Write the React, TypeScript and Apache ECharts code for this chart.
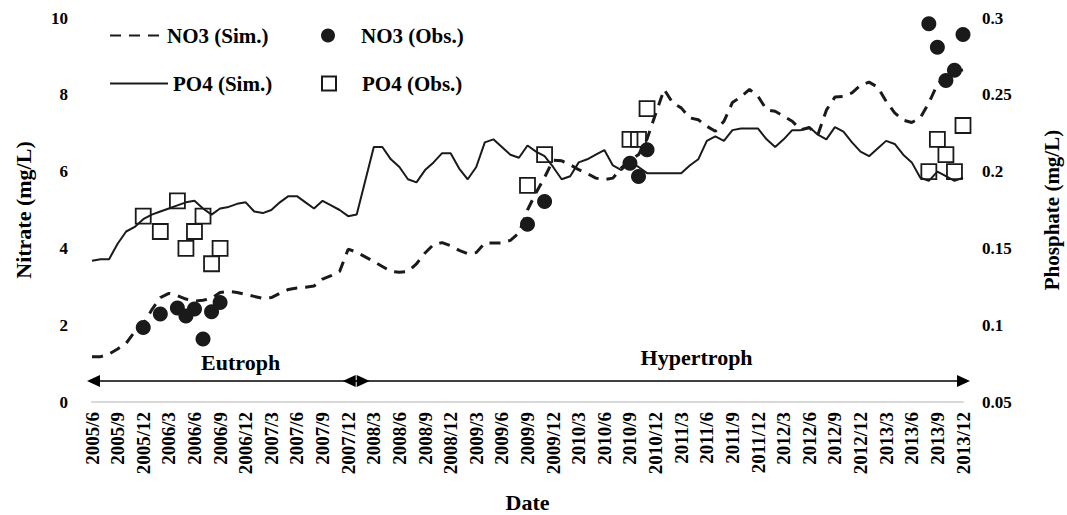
import React, { useEffect, useRef } from "react";
import * as echarts from "echarts";

// Quarterly tick labels (every 3rd month, month index 0 = 2005/6)
const TICK_LABELS = [
  "2005/6", "2005/9", "2005/12", "2006/3", "2006/6", "2006/9", "2006/12",
  "2007/3", "2007/6", "2007/9", "2007/12", "2008/3", "2008/6", "2008/9",
  "2008/12", "2009/3", "2009/6", "2009/9", "2009/12", "2010/3", "2010/6",
  "2010/9", "2010/12", "2011/3", "2011/6", "2011/9", "2011/12", "2012/3",
  "2012/6", "2012/9", "2012/12", "2013/3", "2013/6", "2013/9", "2013/12",
];

// Monthly simulated nitrate (mg/L), 2005/6 .. 2013/12
const NO3_SIM = [
  1.18, 1.18, 1.25, 1.38, 1.53, 1.83, 2.02, 2.4, 2.72, 2.83,
  2.77, 2.68, 2.63, 2.65, 2.7, 2.85, 2.88, 2.85, 2.8, 2.75,
  2.7, 2.72, 2.83, 2.93, 2.97, 2.99, 3.02, 3.2, 3.29, 3.4,
  3.98, 3.9, 3.78, 3.66, 3.53, 3.4, 3.38, 3.4, 3.6, 3.88,
  4.1, 4.15, 4.07, 3.95, 3.86, 3.89, 4.14, 4.14, 4.14, 4.21,
  4.4, 5.0, 5.45, 5.85, 6.3, 6.28, 6.18, 6.05, 5.95, 5.83,
  5.79, 5.83, 6.1, 6.3, 6.44, 6.85, 7.5, 8.14, 7.79, 7.66,
  7.4, 7.35, 7.18, 7.05, 7.31, 7.8, 7.95, 8.14, 7.96, 7.61,
  7.57, 7.44, 7.31, 7.09, 7.14, 6.96, 7.6, 7.94, 7.96, 8.05,
  8.25, 8.33, 8.2, 7.83, 7.53, 7.34, 7.28, 7.4, 7.79, 8.27,
  8.48, 8.6, 8.65,
];

// Monthly simulated phosphate (mg/L), 2005/6 .. 2013/12
const PO4_SIM = [
  0.142, 0.143, 0.143, 0.153, 0.161, 0.164, 0.169, 0.172, 0.174, 0.176,
  0.178, 0.18, 0.181, 0.176, 0.172, 0.176, 0.177, 0.179, 0.18, 0.174,
  0.173, 0.175, 0.18, 0.184, 0.184, 0.18, 0.176, 0.181, 0.178, 0.175,
  0.171, 0.172, 0.194, 0.216, 0.216, 0.208, 0.203, 0.195, 0.193, 0.201,
  0.206, 0.212, 0.212, 0.202, 0.195, 0.203, 0.219, 0.221, 0.216, 0.211,
  0.209, 0.217, 0.213, 0.21, 0.203, 0.195, 0.197, 0.206, 0.208, 0.211,
  0.214, 0.204, 0.201, 0.206, 0.203, 0.199, 0.199, 0.199, 0.199, 0.199,
  0.204, 0.208, 0.22, 0.223, 0.22, 0.227, 0.228, 0.228, 0.228, 0.221,
  0.216, 0.221, 0.227, 0.227, 0.229, 0.224, 0.221, 0.229, 0.226, 0.219,
  0.213, 0.21, 0.215, 0.22, 0.218, 0.211, 0.206, 0.196, 0.194, 0.2,
  0.197, 0.194, 0.196,
];

// Observations
const OBS_DATES = [
  "2005/12", "2006/2", "2006/4", "2006/5", "2006/6", "2006/7", "2006/8", "2006/9",
  "2009/9", "2009/11", "2010/9", "2010/10", "2010/11",
  "2013/8", "2013/9", "2013/10", "2013/11", "2013/12",
];
const NO3_OBS = [
  1.94, 2.29, 2.45, 2.24, 2.42, 1.64, 2.35, 2.59,
  4.63, 5.22, 6.22, 5.87, 6.57,
  9.85, 9.24, 8.37, 8.64, 9.57,
];
const PO4_OBS = [
  0.171, 0.161, 0.181, 0.15, 0.161, 0.171, 0.14, 0.15,
  0.191, 0.211, 0.221, 0.221, 0.241,
  0.2, 0.221, 0.211, 0.2, 0.23,
];

const PERIOD_NAMES = ["Eutroph", "Hypertroph"];
const PERIOD_EDGES = ["2005/6", "2008/1", "2013/12"];

const FONT = '"Liberation Serif", "Times New Roman", serif';
const INK = "#1a1a1a";

const monthIndex = (s: string) => {
  const [y, m] = s.split("/").map(Number);
  return (y - 2005) * 12 + (m - 6);
};

export default function App() {
  const ref = useRef<HTMLDivElement>(null);

  useEffect(() => {
    if (!ref.current) return;
    document.body.style.margin = "0";
    document.documentElement.style.overflow = "hidden";
    document.body.style.overflow = "hidden";
    const chart = echarts.init(ref.current, undefined, { renderer: "svg" });

    const textBase = { fontFamily: FONT, fontWeight: "bold" as const, color: "#000" };
    const hiddenSymbol = { color: "rgba(0,0,0,0)", borderWidth: 0, opacity: 0 };

    const option: any = {
      animation: false,
      backgroundColor: "#fff",
      grid: { left: 92, right: 104, top: 18, bottom: 113, containLabel: false, outerBoundsMode: "none" },
      legend: [
        {
          data: ["NO3 (Sim.)"], left: 104, top: 20, itemWidth: 52, itemHeight: 14,
          itemStyle: hiddenSymbol,
          textStyle: { ...textBase, fontSize: 21 }, selectedMode: false,
        },
        {
          data: ["NO3 (Obs.)"], left: 316, top: 20, itemWidth: 14, itemHeight: 14,
          textStyle: { ...textBase, fontSize: 21, padding: [0, 0, 0, 21] }, selectedMode: false,
        },
        {
          data: ["PO4 (Sim.)"], left: 104, top: 68, itemWidth: 58, itemHeight: 14,
          itemStyle: hiddenSymbol,
          textStyle: { ...textBase, fontSize: 21 }, selectedMode: false,
        },
        {
          data: ["PO4 (Obs.)"], left: 316, top: 68, itemWidth: 14, itemHeight: 14,
          textStyle: { ...textBase, fontSize: 21, padding: [0, 0, 0, 21] }, selectedMode: false,
        },
      ],
      xAxis: {
        type: "value",
        min: 0,
        max: 102,
        interval: 3,
        name: "Date",
        nameLocation: "middle",
        nameGap: 89,
        nameTextStyle: { ...textBase, fontSize: 22 },
        axisLine: { show: true, lineStyle: { color: "#d9d9d9", width: 2 } },
        axisTick: { show: false },
        splitLine: { show: false },
        axisLabel: {
          ...textBase,
          fontSize: 19,
          rotate: 90,
          margin: 10,
          formatter: (v: number) => TICK_LABELS[Math.round(v / 3)] ?? "",
        },
      },
      yAxis: [
        {
          type: "value",
          min: 0,
          max: 10,
          interval: 2,
          name: "Nitrate (mg/L)",
          nameLocation: "middle",
          nameRotate: 90,
          nameGap: 58,
          nameTextStyle: { ...textBase, fontSize: 22 },
          axisLine: { show: false },
          axisTick: { show: false },
          splitLine: { show: false },
          axisLabel: { ...textBase, fontSize: 17, margin: 24 },
        },
        {
          type: "value",
          min: 0.05,
          max: 0.3,
          interval: 0.05,
          name: "Phosphate (mg/L)",
          nameLocation: "middle",
          nameRotate: 90,
          nameGap: 78,
          nameTextStyle: { ...textBase, fontSize: 21 },
          axisLine: { show: false },
          axisTick: { show: false },
          splitLine: { show: false },
          axisLabel: {
            ...textBase,
            fontSize: 17,
            margin: 19,
            formatter: (v: number) => String(Math.round(v * 100) / 100),
          },
        },
      ],
      series: [
        {
          name: "NO3 (Sim.)",
          type: "line",
          yAxisIndex: 0,
          symbol: "none",
          data: NO3_SIM.map((v, i) => [i, v]),
          lineStyle: { color: INK, width: 3, type: [11, 8] },
          itemStyle: { color: INK },
          z: 2,
        },
        {
          name: "NO3 (Obs.)",
          type: "scatter",
          yAxisIndex: 0,
          symbol: "circle",
          symbolSize: 15,
          data: NO3_OBS.map((v, k) => [monthIndex(OBS_DATES[k]), v]),
          itemStyle: { color: INK, opacity: 1 },
          z: 4,
        },
        {
          name: "PO4 (Sim.)",
          type: "line",
          yAxisIndex: 1,
          symbol: "none",
          data: PO4_SIM.map((v, i) => [i, v]),
          lineStyle: { color: INK, width: 2 },
          itemStyle: { color: INK },
          z: 2,
        },
        {
          name: "PO4 (Obs.)",
          type: "scatter",
          yAxisIndex: 1,
          symbol: "rect",
          symbolSize: 15,
          data: PO4_OBS.map((v, k) => [monthIndex(OBS_DATES[k]), v]),
          itemStyle: { color: "rgba(255,255,255,0)", borderColor: INK, borderWidth: 1.8, opacity: 1 },
          z: 3,
        },
      ],
    };

    chart.setOption(option);

    // Period annotations (arrows + labels), positioned through the chart's scales
    const px = (i: number, v: number) =>
      chart.convertToPixel({ xAxisIndex: 0, yAxisIndex: 0 }, [i, v]) as number[];
    const arrowLevel = 0.55;
    const e0 = monthIndex(PERIOD_EDGES[0]);
    const e1 = monthIndex(PERIOD_EDGES[1]);
    const e2 = monthIndex(PERIOD_EDGES[2]);
    const y = px(0, arrowLevel)[1];
    const xa = px(e0, 0)[0];
    const xb = px(e1, 0)[0];
    const xc = px(e2, 0)[0];
    const headL = 13;
    const headH = 6;
    const arrow = (x1: number, x2: number) => [
      { type: "line", shape: { x1: x1 + headL, y1: y, x2: x2 - headL, y2: y }, style: { stroke: "#000", lineWidth: 1.5 } },
      { type: "polygon", shape: { points: [[x1, y], [x1 + headL, y - headH], [x1 + headL, y + headH]] }, style: { fill: "#000" } },
      { type: "polygon", shape: { points: [[x2, y], [x2 - headL, y - headH], [x2 - headL, y + headH]] }, style: { fill: "#000" } },
    ];
    const lbl1 = px(17.4, 1.04);
    const lbl2 = px(70.8, 1.15);
    chart.setOption({
      graphic: [
        ...arrow(xa - 5, xb + 13),
        ...arrow(xb - 14, xc + 7),
        {
          type: "text", x: lbl1[0], y: lbl1[1],
          style: { text: PERIOD_NAMES[0], fill: "#000", font: `bold 22px ${FONT}`, align: "center", verticalAlign: "middle" },
        },
        {
          type: "text", x: lbl2[0], y: lbl2[1],
          style: { text: PERIOD_NAMES[1], fill: "#000", font: `bold 22px ${FONT}`, align: "center", verticalAlign: "middle" },
        },
      ],
    });

    return () => chart.dispose();
  }, []);

  return (
    <div
      ref={ref}
      style={{ position: "fixed", left: 0, top: 0, width: 1067, height: 515, background: "#fff" }}
    />
  );
}
